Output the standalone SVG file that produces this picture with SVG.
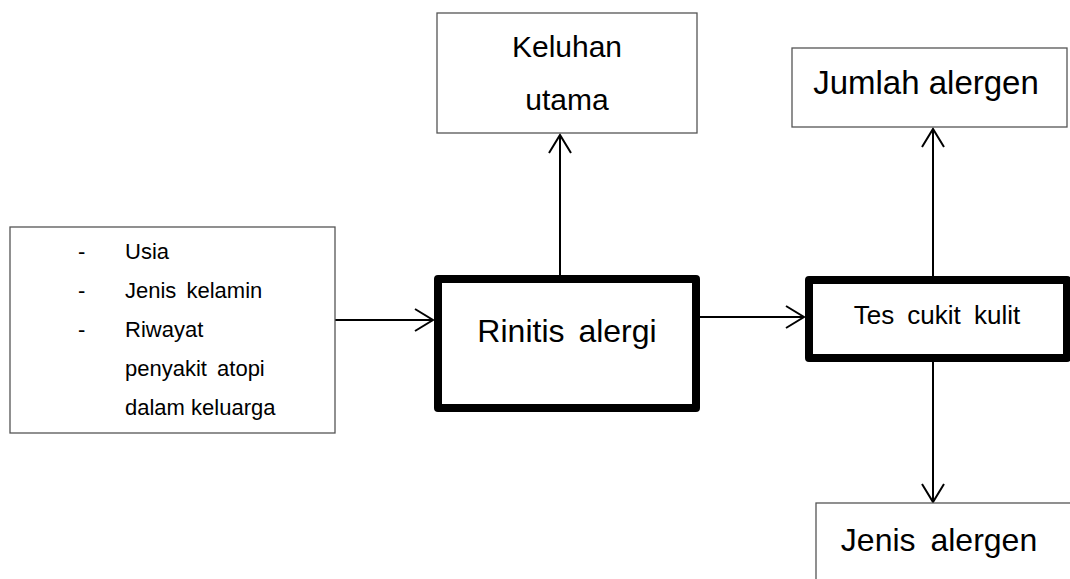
<svg xmlns="http://www.w3.org/2000/svg" width="1070" height="579" viewBox="0 0 1070 579">
<style>
.thin{fill:#fff;stroke:#555;stroke-width:1.3}
.thick{fill:#fff;stroke:#000;stroke-width:8;stroke-linejoin:round}
.t{font-family:"Liberation Sans",Arial,sans-serif;fill:#000}
.l{font-size:22px}
.conn{stroke:#000;stroke-width:2;fill:none}
</style>
<defs>
<marker id="ah" markerUnits="userSpaceOnUse" viewBox="-20 -13 22 26" refX="0" refY="0" markerWidth="22" markerHeight="26" orient="auto">
<path d="M-18,-11 L0,0 L-18,11" fill="none" stroke="#000" stroke-width="2"/>
</marker>
</defs>
<rect width="1070" height="579" fill="#fff"/>
<g id="connectors">
<line class="conn" x1="335" y1="320" x2="433" y2="320" marker-end="url(#ah)"/>
<line class="conn" x1="560" y1="275" x2="560" y2="135" marker-end="url(#ah)"/>
<line class="conn" x1="700" y1="317" x2="804" y2="317" marker-end="url(#ah)"/>
<line class="conn" x1="933" y1="276" x2="933" y2="129" marker-end="url(#ah)"/>
<line class="conn" x1="933" y1="362" x2="933" y2="502" marker-end="url(#ah)"/>
</g>
<g id="faktor">
<rect class="thin" x="10" y="227" width="325" height="206"/>
<text class="t l" x="78" y="259">-</text>
<text class="t l" x="78" y="298">-</text>
<text class="t l" x="78" y="337">-</text>
<text class="t l" x="125" y="259">Usia</text>
<text class="t l" x="125" y="298" word-spacing="4">Jenis kelamin</text>
<text class="t l" x="125" y="337">Riwayat</text>
<text class="t l" x="125" y="376" word-spacing="4">penyakit atopi</text>
<text class="t l" x="125" y="415">dalam keluarga</text>
</g>
<g id="keluhan">
<rect class="thin" x="437" y="13" width="260" height="120"/>
<text class="t" font-size="30" x="567" y="57" text-anchor="middle">Keluhan</text>
<text class="t" font-size="30" x="567" y="110" text-anchor="middle">utama</text>
</g>
<g id="rinitis">
<rect class="thick" x="438" y="279" width="258" height="129"/>
<text class="t" font-size="32" x="567" y="342" text-anchor="middle" word-spacing="5">Rinitis alergi</text>
</g>
<g id="tes">
<rect class="thick" x="809" y="280" width="258" height="78"/>
<text class="t" font-size="26" x="937" y="324" text-anchor="middle" word-spacing="6">Tes cukit kulit</text>
</g>
<g id="jumlah">
<rect class="thin" x="792" y="48" width="275" height="79"/>
<text class="t" font-size="33" x="926" y="94" text-anchor="middle">Jumlah alergen</text>
</g>
<g id="jenis">
<rect class="thin" x="816" y="503" width="270" height="90"/>
<text class="t" font-size="32" x="939" y="551" text-anchor="middle" word-spacing="6">Jenis alergen</text>
</g>
</svg>
